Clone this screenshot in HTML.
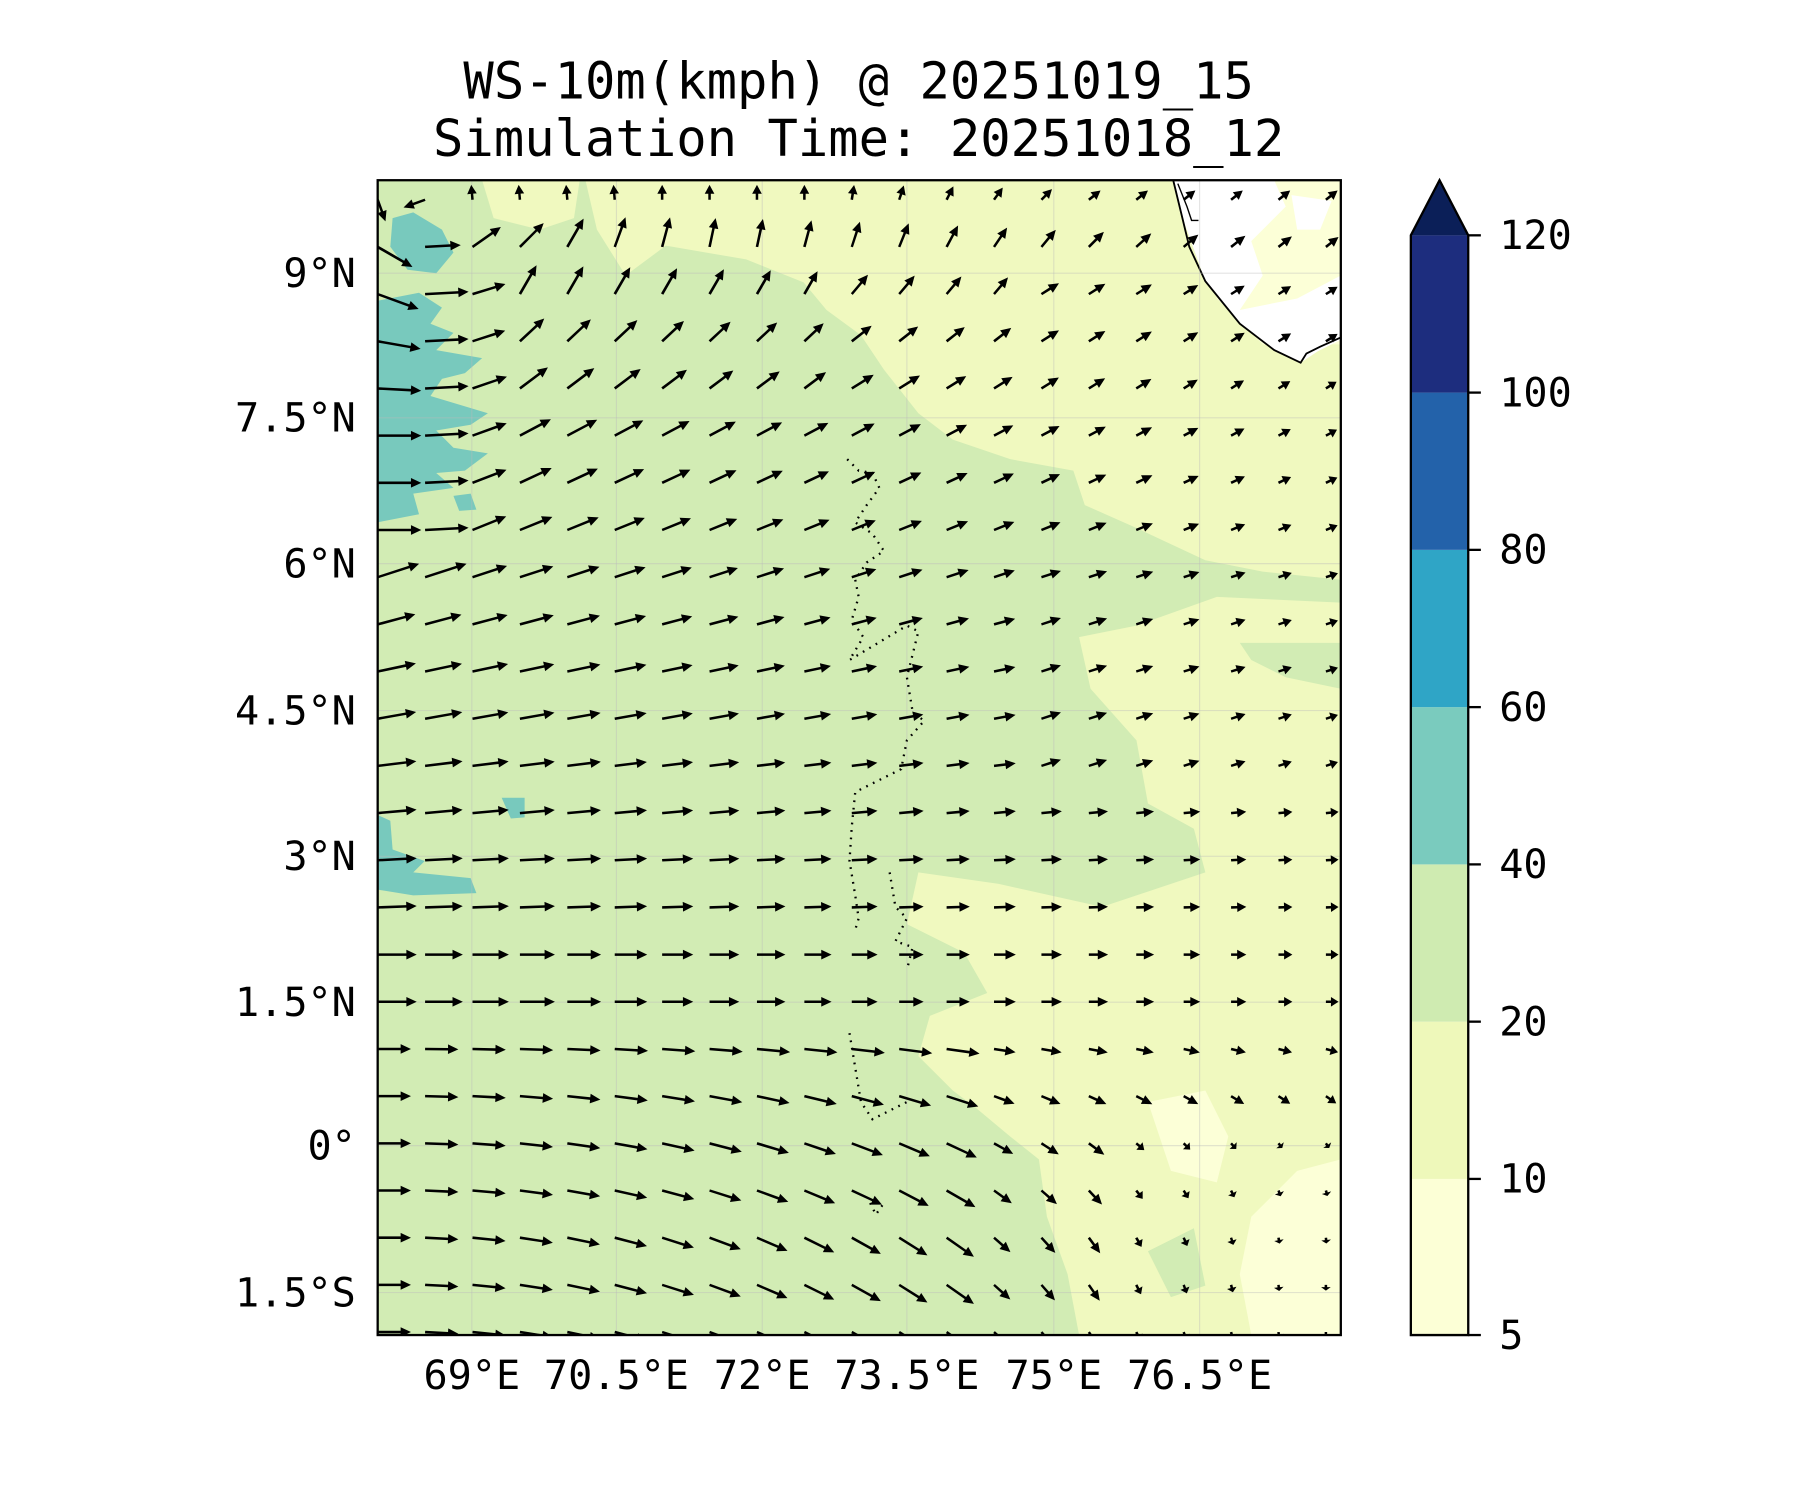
<!DOCTYPE html>
<html><head><meta charset="utf-8"><style>
html,body{margin:0;padding:0;background:#fff;}
svg{display:block;}
text{font-family:"DejaVu Sans Mono","Liberation Mono",monospace;fill:#000;}
</style></head><body>
<svg id="s" width="1800" height="1500" viewBox="0 0 1568 1306.7" preserveAspectRatio="none" xmlns="http://www.w3.org/2000/svg">
<defs><clipPath id="cp"><rect x="329" y="157" width="839" height="1006"/></clipPath></defs>
<text x="748" y="86" font-size="44" text-anchor="middle">WS-10m(kmph) @ 20251019_15</text>
<text x="748" y="136" font-size="44" text-anchor="middle">Simulation Time: 20251018_12</text>
<g clip-path="url(#cp)">
<rect x="329" y="157" width="839" height="1006" fill="#d2ecb4"/>
<polygon fill="#f0f9bf" points="510,157 1168,157 1168,1163 940,1163 930,1110 912,1060 905,1010 880,990 850,965 830,950 800,920 810,885 860,865 840,830 790,805 800,760 870,770 960,790 1050,760 1040,722 1000,700 990,645 950,600 940,555 990,545 1060,520 1168,525 1168,505 1100,498 1050,488 990,460 945,440 935,410 880,400 830,383 800,360 770,322 750,292 720,270 700,246 650,226 580,214 545,240 520,200"/>
<polygon fill="#f0f9bf" points="420,157 505,157 500,190 470,200 430,190"/>
<polygon fill="#d2ecb4" points="1080,560 1168,560 1168,600 1120,590 1090,575"/>
<polygon fill="#d2ecb4" points="960,470 1020,480 1060,500 1000,510 950,500"/>
<polygon fill="#d2ecb4" points="1000,1090 1040,1070 1050,1120 1020,1130"/>
<polygon fill="#fcffd7" points="1090,1060 1130,1020 1168,1010 1168,1163 1090,1163 1080,1110"/>
<polygon fill="#fcffd7" points="1000,960 1050,950 1070,990 1060,1030 1020,1020"/>
<polygon fill="#fcffd7" points="1040,157 1168,157 1168,300 1100,300 1060,260"/>
<polygon fill="#ffffff" points="1022,157 1110,157 1120,180 1090,210 1100,240 1080,270 1130,260 1168,240 1168,296 1148,306 1133,316 1110,305 1080,282 1050,245 1032,195"/>
<polygon fill="#ffffff" points="1125,170 1160,175 1150,200 1130,200"/>
<path d="M1022,157 L1030,190 L1036,215 L1050,245 L1080,282 L1110,305 L1133,316 L1138,308 L1150,302 L1168,294" fill="none" stroke="#000" stroke-width="1.6"/>
<path d="M1026,160 L1034,180 L1038,192 L1044,192" fill="none" stroke="#000" stroke-width="1.2"/>
<polygon fill="#78c9bd" points="342,190 360,185 385,200 395,220 380,238 355,235 340,215"/>
<polygon fill="#78c9bd" points="329,262 365,255 385,268 375,282 395,290 380,305 420,312 405,325 385,330 375,345 425,360 410,370 380,375 395,390 425,395 405,410 380,412 395,425 360,430 365,448 329,455"/>
<polygon fill="#78c9bd" points="395,432 410,430 415,444 400,445"/>
<polygon fill="#78c9bd" points="437,695 457,695 457,712 445,713"/>
<polygon fill="#78c9bd" points="329,710 340,715 342,740 370,750 360,760 410,765 415,778 360,780 329,775"/>
<g stroke="#bbb" stroke-opacity="0.4" stroke-width="1">
<line x1="411" y1="157" x2="411" y2="1163"/><line x1="537" y1="157" x2="537" y2="1163"/><line x1="664" y1="157" x2="664" y2="1163"/><line x1="790" y1="157" x2="790" y2="1163"/><line x1="918" y1="157" x2="918" y2="1163"/><line x1="1045" y1="157" x2="1045" y2="1163"/>
<line x1="329" y1="238" x2="1168" y2="238"/><line x1="329" y1="364" x2="1168" y2="364"/><line x1="329" y1="491" x2="1168" y2="491"/><line x1="329" y1="619" x2="1168" y2="619"/><line x1="329" y1="746" x2="1168" y2="746"/><line x1="329" y1="873" x2="1168" y2="873"/><line x1="329" y1="998" x2="1168" y2="998"/><line x1="329" y1="1126" x2="1168" y2="1126"/>
</g>
<path d="M738,400 L748,410 L760,412 L766,425 L755,440 L745,455 L760,465 L770,480 L755,490 L745,505 L748,520 L742,540 L752,555 L740,575 L790,545 L800,550 L790,590 L795,620 L805,628 L790,645 L785,670 L745,690 L742,720 L740,750 L745,780 L748,800 L745,810 M775,760 L780,790 L790,800 L780,820 L795,825 L790,845 M740,900 L745,930 L750,960 L760,975 L790,960 M758,1048 L763,1058 L770,1048" fill="none" stroke="#000" stroke-width="2" stroke-dasharray="1.5 5"/>
<g id="arrows"></g>
</g>
<rect x="329" y="157" width="839" height="1006" fill="none" stroke="#000" stroke-width="2"/>
<g font-size="35" text-anchor="end">
<text x="310" y="250">9°N</text><text x="310" y="376">7.5°N</text><text x="310" y="503">6°N</text><text x="310" y="631">4.5°N</text><text x="310" y="758">3°N</text><text x="310" y="885">1.5°N</text><text x="310" y="1010">0°</text><text x="310" y="1138">1.5°S</text>
</g>
<g font-size="35" text-anchor="middle">
<text x="411" y="1210">69°E</text><text x="537" y="1210">70.5°E</text><text x="664" y="1210">72°E</text><text x="790" y="1210">73.5°E</text><text x="918" y="1210">75°E</text><text x="1045" y="1210">76.5°E</text>
</g>
<rect x="1229" y="1027" width="50" height="136" fill="#fcffd6"/>
<rect x="1229" y="890" width="50" height="137" fill="#eef8ba"/>
<rect x="1229" y="753" width="50" height="137" fill="#cfebb1"/>
<rect x="1229" y="616" width="50" height="137" fill="#7acbbe"/>
<rect x="1229" y="479" width="50" height="137" fill="#2fa5c6"/>
<rect x="1229" y="342" width="50" height="137" fill="#2362aa"/>
<rect x="1229" y="205" width="50" height="137" fill="#1d2d7e"/>
<polygon points="1229,205 1254,157 1279,205" fill="#0b1f58"/>
<polygon points="1229,1163 1229,205 1254,157 1279,205 1279,1163" fill="none" stroke="#000" stroke-width="2"/>
<g stroke="#000" stroke-width="2">
<line x1="1279" y1="205" x2="1290" y2="205"/><line x1="1279" y1="342" x2="1290" y2="342"/><line x1="1279" y1="479" x2="1290" y2="479"/><line x1="1279" y1="616" x2="1290" y2="616"/><line x1="1279" y1="753" x2="1290" y2="753"/><line x1="1279" y1="890" x2="1290" y2="890"/><line x1="1279" y1="1027" x2="1290" y2="1027"/><line x1="1279" y1="1163" x2="1290" y2="1163"/>
</g>
<g font-size="35">
<text x="1306" y="217">120</text><text x="1306" y="354">100</text><text x="1306" y="491">80</text><text x="1306" y="628">60</text><text x="1306" y="765">40</text><text x="1306" y="902">20</text><text x="1306" y="1039">10</text><text x="1306" y="1175">5</text>
</g>
</svg>
<script>
(function(){
var g=document.getElementById('arrows');var out='';
var mid=[90,70,50,38,32,28,25,22,18,15,12,10,7,5,3,2,0,0,-2,-3,-5,-8,-10,-12,-12];
var mB={18:-8,19:-18,20:-25,21:-30,22:-35,23:-35,24:-35};
var eB={18:-15,19:-35,20:-55,21:-75,22:-85,23:-90,24:-90};
var r1=[-30,3,35,45,60,70,75,78,78,75,72,68,62,56,50,45,42,40,38,38,38];
for(var r=0;r<25;r++){for(var c=0;c<21;c++){
 var x=329+41.3*c,y=174+41.1*r,a,L;
 if(r==0){a=c==0?-70:(c==1?200:(c<6?95:(c<10?90:Math.max(38,90-(c-9)*9))));L=c<2?20:13;}
 else if(r==1){a=r1[c];L=c==0?35:Math.max(13,32-c*0.9);}
 else{
  a=mid[r];
  if(r<=7){ if(c==0)a=[0,0,-20,-10,-3,0,0,0][r]; else if(c==1)a=3; else if(c==2)a=Math.min(a,15+r); }
  if(r>=2&&r<=4&&c>=3&&c<=9)a=mid[r]+(r==2?10:5);
  if(r>=2&&r<=3&&c>=14)a=32;
  if(r>=18){
    var m=mB[r],e=eB[r];
    if(c<=12)a=m*c/12; else a=m+(e-m)*(c-12)/8;
  }
  if(r>=8&&r<=12&&c>=14)a=Math.max(a,18);
  L=Math.max(9,34-c*1.15);
  if(r<=3)L=Math.max(12,32-c*1.0);
  if(r>=18&&c<=12)L=29;
  if(r>=20&&c>=16)L=Math.max(5,30-c*1.3);
  if(r>=2&&r<=8&&c<=1)L=38;
 }
 var rad=a*Math.PI/180,dx=Math.cos(rad),dy=-Math.sin(rad);
 var hl=Math.min(9,L*0.6),hw=4.2,sw=1.1;
 var sx=L-hl; var px=-dy,py=dx;
 function P(u,v){return (x+dx*u+px*v).toFixed(1)+','+(y+dy*u+py*v).toFixed(1);}
 out+='<polygon points="'+P(0,-sw)+' '+P(sx,-sw)+' '+P(sx,-hw)+' '+P(L,0)+' '+P(sx,hw)+' '+P(sx,sw)+' '+P(0,sw)+'" fill="#000"/>';
}}
g.innerHTML=out;
})();
</script>
</body></html>
